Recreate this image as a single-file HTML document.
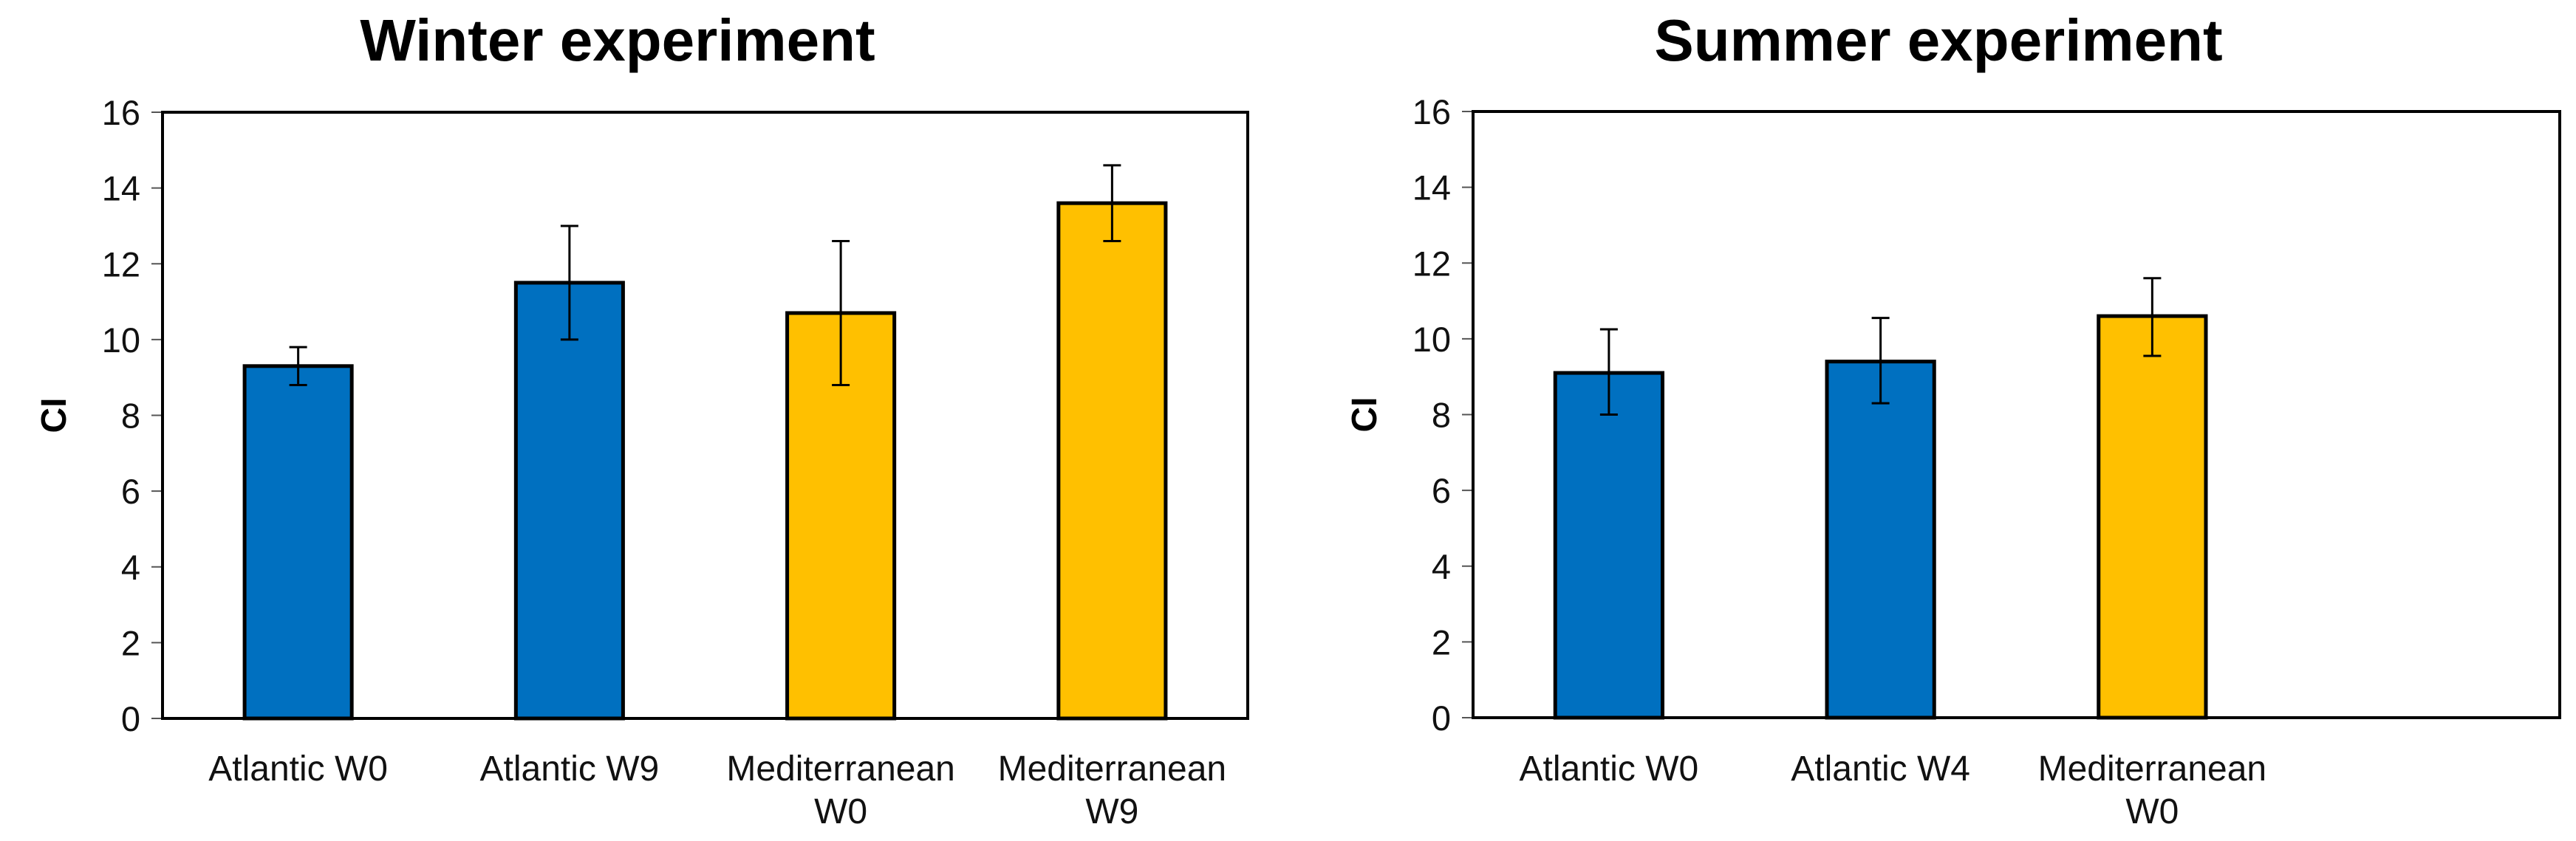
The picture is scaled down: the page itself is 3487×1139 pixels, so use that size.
<!DOCTYPE html>
<html><head><meta charset="utf-8"><style>
html,body{margin:0;padding:0;background:#fff;}
svg{display:block;font-family:"Liberation Sans",Arial,sans-serif;}
</style></head><body>
<svg id="svg" width="3487" height="1139" viewBox="0 0 3487 1139">
<g id="left"></g>
<g id="right"></g>
</svg>
<script>
const winterCategories = [["Atlantic W0"],["Atlantic W9"],["Mediterranean","W0"],["Mediterranean","W9"]];
const winterValues = [9.3, 11.5, 10.7, 13.6];
const winterErrLow = [8.8, 10.0, 8.8, 12.6];
const winterErrHigh = [9.8, 13.0, 12.6, 14.6];
const winterColors = ["#0070C0","#0070C0","#FFC000","#FFC000"];
const summerCategories = [["Atlantic W0"],["Atlantic W4"],["Mediterranean","W0"]];
const summerValues = [9.1, 9.4, 10.6];
const summerErrLow = [8.0, 8.3, 9.55];
const summerErrHigh = [10.25, 10.55, 11.6];
const summerColors = ["#0070C0","#0070C0","#FFC000"];
const yTicks = [0,2,4,6,8,10,12,14,16];
const NS = "http://www.w3.org/2000/svg";
function mk(parent, tag, attrs){const e=document.createElementNS(NS,tag);for(const k in attrs)e.setAttribute(k,attrs[k]);parent.appendChild(e);return e;}
function drawChart(g, title, x0, x1, y0, y1, cats, vals, lo, hi, colors, slots, titleX){
  const yScale = v => y1 - (v/16)*(y1-y0);
  const slotW = (x1-x0)/slots;
  const xCenter = i => x0 + slotW*(i+0.5);
  const t = mk(g,'text',{x:titleX,y:82,'text-anchor':'middle','font-size':80,'font-weight':'bold'});
  t.textContent = title;
  
  
  const yl = mk(g,'text',{x:0,y:0,transform:`translate(${x0-131},${(y0+y1)/2}) rotate(-90)`,'text-anchor':'middle','font-size':48,'font-weight':'bold'});
  yl.textContent='CI';
  
  
  yTicks.forEach(v=>{
    const y=yScale(v);
    const tk=mk(g,'line',{x1:x0-15,x2:x0,y1:y,y2:y,stroke:'#555','stroke-width':2});
    
    
    const lb=mk(g,'text',{x:x0-30,y:y+17,'text-anchor':'end','font-size':47,fill:'#111'});
    lb.textContent=v;
    
    
  });
  const fr=mk(g,'rect',{x:x0,y:y0,width:x1-x0,height:y1-y0,fill:'none',stroke:'#000','stroke-width':4});
  
  
  vals.forEach((v,i)=>{
    const cx=xCenter(i), bw=slotW*0.395;
    const b=mk(g,'rect',{x:cx-bw/2,y:yScale(v),width:bw,height:y1-yScale(v),fill:colors[i],stroke:'#000','stroke-width':5});
    
    
    const e=mk(g,'path',{d:`M${cx},${yScale(lo[i])}V${yScale(hi[i])}M${cx-12},${yScale(lo[i])}H${cx+12}M${cx-12},${yScale(hi[i])}H${cx+12}`,stroke:'#000','stroke-width':3,fill:'none'});
    
    
    cats[i].forEach((line,j)=>{
      const c=mk(g,'text',{x:cx,y:1057+j*58,'text-anchor':'middle','font-size':48,fill:'#111'});
      c.textContent=line;
      
      
    });
  });
}
drawChart(document.getElementById('left'),'Winter experiment',220,1689,152,973,winterCategories,winterValues,winterErrLow,winterErrHigh,winterColors,4,836);
drawChart(document.getElementById('right'),'Summer experiment',1994,3465,151,972,summerCategories,summerValues,summerErrLow,summerErrHigh,summerColors,4,2624);
</script>
</body></html>
